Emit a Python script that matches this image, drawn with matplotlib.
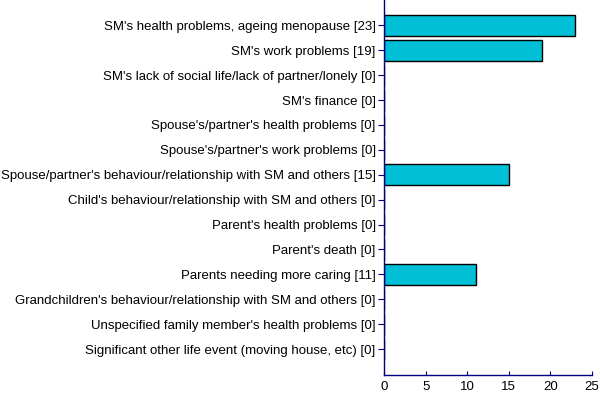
import matplotlib
matplotlib.use("Agg")
import matplotlib.pyplot as plt

categories = [
    "SM's health problems, ageing menopause",
    "SM's work problems",
    "SM's lack of social life/lack of partner/lonely",
    "SM's finance",
    "Spouse's/partner's health problems",
    "Spouse's/partner's work problems",
    "Spouse/partner's behaviour/relationship with SM and others",
    "Child's behaviour/relationship with SM and others",
    "Parent's health problems",
    "Parent's death",
    "Parents needing more caring",
    "Grandchildren's behaviour/relationship with SM and others",
    "Unspecified family member's health problems",
    "Significant other life event (moving house, etc)",
]
values = [23, 19, 0, 0, 0, 0, 15, 0, 0, 0, 11, 0, 0, 0]
xticks = [0, 5, 10, 15, 20, 25]

plt.rcParams['font.family'] = ['Liberation Sans', 'DejaVu Sans']

fig = plt.figure(figsize=(6.0, 4.08), dpi=100)
ax = fig.add_axes([0.64, 0.081, 0.3467, 0.919])

labels = [f"{c} [{v}]" for c, v in zip(categories, values)]
pos = list(range(len(categories)))
ax.barh(pos, values, height=0.84, color='#00BFD6', edgecolor='black', linewidth=1.0)

ax.set_ylim(14.04, -1.02)
ax.set_xlim(0, 25)
ax.set_yticks(pos)
ax.set_yticklabels(labels, fontsize=9.5)
ax.set_xticks(xticks)
ax.set_xticklabels([str(t) for t in xticks], fontsize=9.5)

navy = '#000080'
for s in ['top', 'right']:
    ax.spines[s].set_visible(False)
for s in ['left', 'bottom']:
    ax.spines[s].set_color(navy)
    ax.spines[s].set_linewidth(1.0)
ax.tick_params(axis='y', direction='out', length=4, color=navy, pad=2)
ax.tick_params(axis='x', direction='in', length=3, color=navy, pad=4)

fig.savefig("out.png", dpi=100)
